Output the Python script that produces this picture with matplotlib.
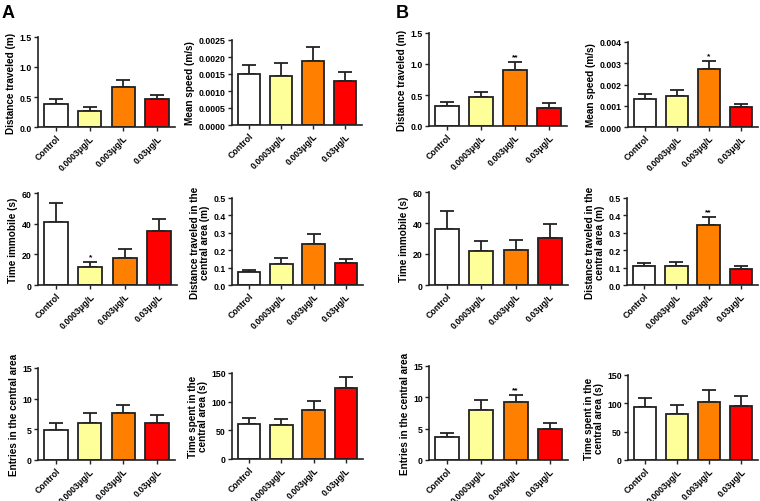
import matplotlib.pyplot as plt
import numpy as np

plt.rcParams['font.family'] = ['Liberation Sans', 'DejaVu Sans']
plt.rcParams['font.weight'] = 'bold'

groups = ['Control', '0.0003μg/L', '0.003μg/L', '0.03μg/L']
colors = ['#FFFFFF', '#FFFF99', '#FF8000', '#FF0000']

# panel A
a_dist = [0.39, 0.26, 0.67, 0.46]
a_dist_err = [0.08, 0.07, 0.12, 0.08]
a_speed = [0.00150, 0.00144, 0.00188, 0.00128]
a_speed_err = [0.00026, 0.00039, 0.00042, 0.00029]
a_immob = [40.9, 11.7, 17.3, 34.9]
a_immob_err = [12.8, 3.0, 5.9, 8.2]
a_cdist = [0.073, 0.118, 0.234, 0.127]
a_cdist_err = [0.016, 0.038, 0.061, 0.025]
a_entries = [4.93, 5.97, 7.72, 6.08]
a_entries_err = [1.04, 1.63, 1.20, 1.20]
a_ctime = [61.4, 58.5, 86.3, 123.4]
a_ctime_err = [9.8, 10.4, 14.5, 19.6]

# panel B
b_dist = [0.317, 0.468, 0.903, 0.296]
b_dist_err = [0.070, 0.080, 0.127, 0.074]
b_speed = [0.00132, 0.00148, 0.00275, 0.00092]
b_speed_err = [0.00023, 0.00027, 0.00035, 0.00016]
b_immob = [36.2, 22.1, 22.7, 30.3]
b_immob_err = [11.5, 6.3, 6.5, 9.3]
b_cdist = [0.108, 0.108, 0.342, 0.092]
b_cdist_err = [0.019, 0.027, 0.048, 0.020]
b_entries = [3.67, 7.93, 9.20, 5.00]
b_entries_err = [0.69, 1.70, 1.23, 0.90]
b_ctime = [93.2, 80.9, 102.5, 95.5]
b_ctime_err = [16.8, 15.8, 21.1, 17.5]

W, H = 760, 502
fig = plt.figure(figsize=(W / 100, H / 100), dpi=100)


def panel(rect, vals, errs, ylabel, yticks, fmt, stars=None):
    x0, x1, ytop, ybot = rect
    ax = fig.add_axes([x0 / W, 1 - ybot / H, (x1 - x0) / W, (ybot - ytop) / H])
    x = np.arange(len(groups))
    ax.errorbar(x, vals, yerr=[np.zeros(len(vals)), errs], fmt='none',
                ecolor='#222222', elinewidth=1.3, capsize=5, capthick=1.3, zorder=1)
    ax.bar(x, vals, width=0.7, color=colors, edgecolor='#222222', linewidth=1.3, zorder=2)
    ax.set_xlim(-0.53, 3.53)
    ax.set_ylim(yticks[0], yticks[-1])
    ax.set_yticks(yticks)
    ax.set_yticklabels([fmt.format(t) for t in yticks], fontsize=6.3, fontweight='bold')
    ax.set_xticks(x)
    ax.set_xticklabels(groups, rotation=45, ha='right', rotation_mode='anchor',
                       fontsize=6.3, fontweight='bold')
    ax.set_ylabel(ylabel, fontsize=7.2, fontweight='bold', labelpad=2.5, linespacing=1.0)
    for s in ['top', 'right']:
        ax.spines[s].set_visible(False)
    for s in ['left', 'bottom']:
        ax.spines[s].set_linewidth(1.2)
        ax.spines[s].set_color('#222222')
    ax.tick_params(width=1.0, length=3, pad=1.5, colors='#222222')
    ax.tick_params(labelcolor='black')
    if stars:
        for i, s in stars.items():
            ax.text(i, vals[i] + errs[i] + (yticks[-1] - yticks[0]) * 0.02, s,
                    ha='center', va='bottom', fontsize=6, fontweight='bold')
    return ax


panel([38, 175, 38, 128], a_dist, a_dist_err, 'Distance traveled (m)',
      [0.0, 0.5, 1.0, 1.5], '{:.1f}')
panel([232, 362, 41, 126], a_speed, a_speed_err, 'Mean speed (m/s)',
      [0.0, 0.0005, 0.0010, 0.0015, 0.0020, 0.0025], '{:.4f}')
panel([429, 567, 34, 127], b_dist, b_dist_err, 'Distance traveled (m)',
      [0.0, 0.5, 1.0, 1.5], '{:.1f}', {2: '**'})
panel([628, 758, 43, 128], b_speed, b_speed_err, 'Mean speed (m/s)',
      [0.0, 0.001, 0.002, 0.003, 0.004], '{:.3f}', {2: '*'})

panel([38, 177, 194, 286], a_immob, a_immob_err, 'Time immobile (s)',
      [0, 20, 40, 60], '{:.0f}', {1: '*'})
panel([232, 363, 199, 286], a_cdist, a_cdist_err,
      'Distance traveled in the\ncentral area (m)',
      [0.0, 0.1, 0.2, 0.3, 0.4, 0.5], '{:.1f}')
panel([429, 568, 193, 286], b_immob, b_immob_err, 'Time immobile (s)',
      [0, 20, 40, 60], '{:.0f}')
panel([627, 758, 199, 286], b_cdist, b_cdist_err,
      'Distance traveled in the\ncentral area (m)',
      [0.0, 0.1, 0.2, 0.3, 0.4, 0.5], '{:.1f}', {2: '**'})

panel([38, 175, 369, 461], a_entries, a_entries_err, 'Entries in the central area',
      [0, 5, 10, 15], '{:.0f}')
panel([232, 363, 374, 460], a_ctime, a_ctime_err,
      'Time spent in the\ncentral area (s)',
      [0, 50, 100, 150], '{:.0f}')
panel([429, 568, 367, 461], b_entries, b_entries_err, 'Entries in the central area',
      [0, 5, 10, 15], '{:.0f}', {2: '**'})
panel([628, 758, 376, 461], b_ctime, b_ctime_err,
      'Time spent in the\ncentral area (s)',
      [0, 50, 100, 150], '{:.0f}')

fig.text(2 / W, 1 - 5 / H, 'A', fontsize=13, fontweight='bold', va='top', ha='left')
fig.text(396 / W, 1 - 5 / H, 'B', fontsize=13, fontweight='bold', va='top', ha='left')

fig.savefig('out.png', dpi=100)
